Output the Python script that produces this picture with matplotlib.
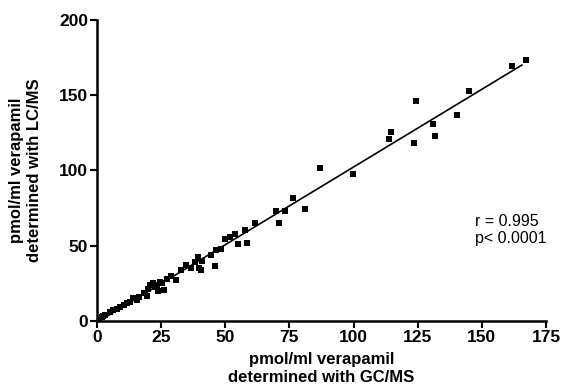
import matplotlib
matplotlib.use("Agg")
import matplotlib.pyplot as plt
import numpy as np

plt.rcParams['font.family'] = ['Liberation Sans', 'DejaVu Sans']

gcms = [167.3, 161.7, 145.0, 140.3, 131.0, 131.9, 124.4, 123.4, 114.7, 113.7,
        99.7, 87.0, 76.5, 80.9, 73.3, 69.8, 71.1, 61.6, 57.6, 58.5,
        55.0, 53.6, 51.7, 50.0, 48.2, 46.5, 44.3, 46.1, 41.0, 39.3,
        39.7, 40.7, 38.1, 36.5, 34.8, 32.9, 30.9, 29.0, 27.3, 24.5,
        23.8, 23.2, 21.9, 20.6, 19.5, 18.3, 14.1, 12.8, 11.5, 7.7,
        6.3, 5.0, 3.1, 1.8, 0.5, 9.0, 15.5, 16.5, 20.0, 22.5,
        25.5, 26.0, 10.5, 2.5]
lcms = [173.2, 169.2, 153.0, 136.7, 130.9, 123.1, 146.0, 118.5, 125.6, 121.1,
        97.9, 101.5, 81.5, 74.2, 73.1, 72.9, 64.9, 65.3, 60.5, 52.0,
        51.2, 57.8, 56.0, 54.5, 47.6, 47.2, 43.9, 36.7, 39.9, 42.3,
        35.0, 33.9, 39.4, 35.0, 37.2, 33.9, 27.2, 30.1, 27.7, 26.1,
        19.9, 23.9, 25.0, 23.9, 16.6, 18.4, 15.1, 12.8, 11.8, 7.8,
        7.3, 6.2, 4.0, 2.5, 1.1, 9.5, 14.0, 15.8, 21.0, 22.5,
        25.0, 20.5, 10.8, 3.0]

xticks = [0, 25, 50, 75, 100, 125, 150, 175]
yticks = [0, 50, 100, 150, 200]

fig = plt.figure(figsize=(5.62, 3.88), dpi=100)
ax = fig.add_axes([0.1726, 0.1727, 0.7989, 0.7758])

ax.plot(gcms, lcms, 's', color='black', ms=4.3, mew=0)
slope, icpt = np.polyfit(gcms, lcms, 1)
xf = np.array([0, 165.6])
ax.plot(xf, slope * xf + icpt, color='black', lw=1.2)

ax.set_xlim(0, 175)
ax.set_ylim(0, 200)
ax.set_xticks(xticks)
ax.set_yticks(yticks)
for s in ['top', 'right']:
    ax.spines[s].set_visible(False)
for s in ['left', 'bottom']:
    ax.spines[s].set_linewidth(1.8)
ax.tick_params(direction='out', length=5, width=1.5, labelsize=12.5, pad=1.5)
for lab in ax.get_xticklabels() + ax.get_yticklabels():
    lab.set_fontweight('bold')

ax.set_xlabel('pmol/ml verapamil\ndetermined with GC/MS', fontsize=12,
              fontweight='bold', linespacing=1.25, labelpad=5)
ax.set_ylabel('pmol/ml verapamil\ndetermined with LC/MS', fontsize=12,
              fontweight='bold', linespacing=1.25, labelpad=12)

ax.text(147.5, 66, 'r = 0.995', fontsize=11.5, ha='left', va='center')
ax.text(147.5, 55, 'p< 0.0001', fontsize=11.5, ha='left', va='center')

fig.savefig('out.png', dpi=100)
